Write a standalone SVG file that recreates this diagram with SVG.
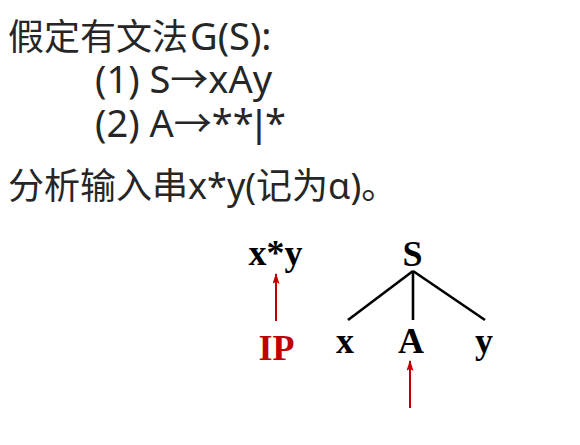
<svg xmlns="http://www.w3.org/2000/svg" width="580" height="445" viewBox="0 0 580 445">
<style>
.cn{font-family:"Noto Sans","Noto Sans CJK SC",sans-serif;font-size:36px;fill:#262626}
.la{font-size:38px}
.bar{font-family:"Liberation Sans",Arial,sans-serif}
.tr{font-family:"Liberation Serif","Times New Roman",serif;font-size:36px;font-weight:bold;fill:#000}
.red{fill:#C00000}
.edge{stroke:#000;stroke-width:2.6;fill:none}
.rarr{stroke:#C00000;stroke-width:2;fill:none}
</style>
<defs>
<marker id="ah" viewBox="0 0 10 10" refX="9" refY="5" markerWidth="11" markerHeight="7" markerUnits="userSpaceOnUse" orient="auto" preserveAspectRatio="none">
<path d="M0,0 L10,5 L0,10 L2,5 z" fill="#C00000"/>
</marker>
</defs>
<rect width="580" height="445" fill="#fff"/>
<g id="grammar">
<text class="cn" x="8" y="50">假定有文法<tspan class="la" x="190">G(S):</tspan></text>
<text class="cn la" x="95" y="93">(1) S→xAy</text>
<text class="cn la" x="95" y="137">(2) A→**<tspan class="bar" x="254">|</tspan><tspan x="265">*</tspan></text>
<text class="cn" x="8" y="199">分析输入串x*y(记为α)。</text>
</g>
<g id="input"><text class="tr" x="275.5" y="265" text-anchor="middle">x*y</text></g>
<g id="ip"><text class="tr red" x="276.5" y="360" text-anchor="middle">IP</text></g>
<g id="S"><text class="tr" x="412.5" y="266" text-anchor="middle">S</text></g>
<g id="x"><text class="tr" x="345" y="353" text-anchor="middle">x</text></g>
<g id="A"><text class="tr" x="411" y="353" text-anchor="middle">A</text></g>
<g id="y"><text class="tr" x="484" y="353" text-anchor="middle">y</text></g>
<g id="connectors">
<line class="edge" x1="413" y1="271" x2="348" y2="320"/>
<line class="edge" x1="413" y1="271" x2="413" y2="320"/>
<line class="edge" x1="413" y1="271" x2="485" y2="320"/>
<line class="rarr" x1="276" y1="321" x2="276" y2="274" marker-end="url(#ah)"/>
<line class="rarr" x1="410" y1="408" x2="410" y2="361" marker-end="url(#ah)"/>
</g>
</svg>
